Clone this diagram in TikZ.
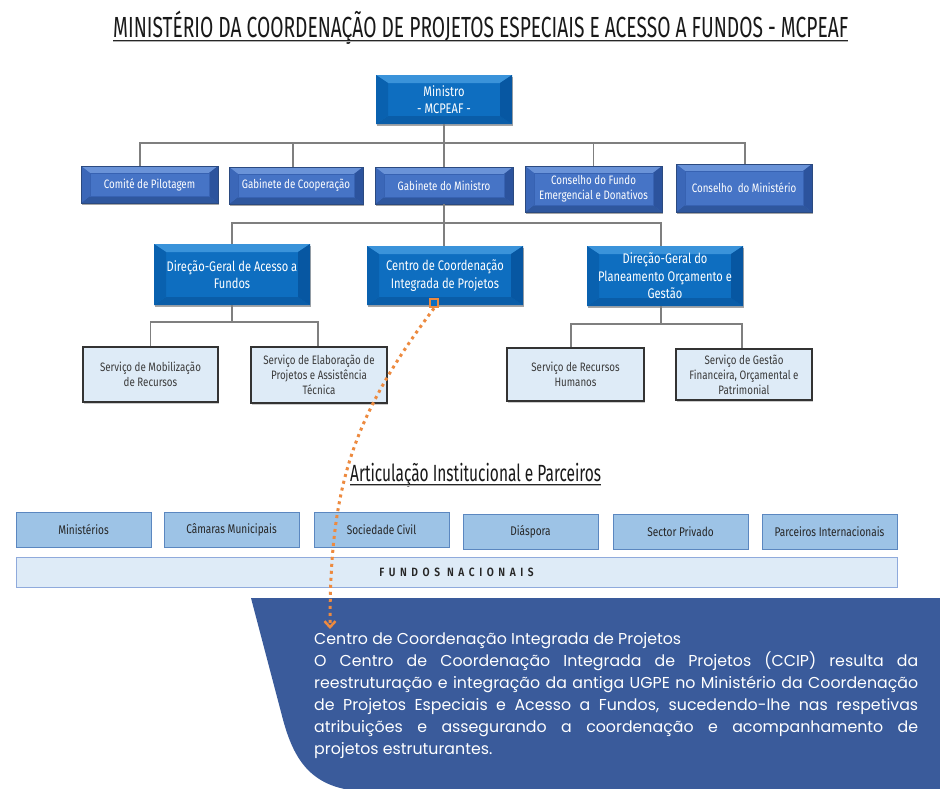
\documentclass[tikz,border=0pt]{standalone}
\usepackage{fontspec}
\usetikzlibrary{shadows,arrows.meta,calc}
\newfontfamily\condf[FakeStretch=0.8]{Fira Sans}
\newfontfamily\titlef[FakeStretch=0.66]{Fira Sans}
\newfontfamily\spacedf[FakeStretch=0.85,LetterSpace=38]{Fira Sans SemiBold}
\newfontfamily\popp{Poppins}
\definecolor{bface}{HTML}{0E6EC0}
\definecolor{btop}{HTML}{3A93DA}
\definecolor{bleft}{HTML}{0961AF}
\definecolor{bright}{HTML}{0757A2}
\definecolor{bbot}{HTML}{0A5DA8}
\definecolor{mface}{HTML}{4674C6}
\definecolor{mtop}{HTML}{6A93D8}
\definecolor{mleft}{HTML}{3B67B8}
\definecolor{mright}{HTML}{2C539D}
\definecolor{mbot}{HTML}{2F579E}
\definecolor{mborder}{HTML}{2B4A80}
\definecolor{mframe}{HTML}{3762B2}
\definecolor{lface}{HTML}{DEEBF7}
\definecolor{ltext}{HTML}{3A3A3A}
\definecolor{pface}{HTML}{9DC3E6}
\definecolor{pborder}{HTML}{5B87C0}
\definecolor{fborder}{HTML}{8FAADC}
\definecolor{conn}{HTML}{7F7F7F}
\definecolor{panel}{HTML}{3A5B9B}
\definecolor{orng}{HTML}{ED8A3F}
\tikzset{
  bevel/.style n args={7}{path picture={
    \fill[#3] (path picture bounding box.north west) -- (path picture bounding box.north east)
      -- ([shift={(-#1,-#2)}]path picture bounding box.north east) -- ([shift={(#1,-#2)}]path picture bounding box.north west) -- cycle;
    \fill[#6] (path picture bounding box.south west) -- (path picture bounding box.south east)
      -- ([shift={(-#1,#2)}]path picture bounding box.south east) -- ([shift={(#1,#2)}]path picture bounding box.south west) -- cycle;
    \fill[#4] (path picture bounding box.north west) -- (path picture bounding box.south west)
      -- ([shift={(#1,#2)}]path picture bounding box.south west) -- ([shift={(#1,-#2)}]path picture bounding box.north west) -- cycle;
    \fill[#5] (path picture bounding box.north east) -- (path picture bounding box.south east)
      -- ([shift={(-#1,#2)}]path picture bounding box.south east) -- ([shift={(-#1,-#2)}]path picture bounding box.north east) -- cycle;
    \draw[#7] ([shift={(#1,-#2)}]path picture bounding box.north west) rectangle ([shift={(-#1,#2)}]path picture bounding box.south east);
  }},
  softshadow/.style={drop shadow={shadow xshift=0.8pt,shadow yshift=-2.2pt,opacity=0.35,fill=black}},
  bluebox/.style={rectangle, fill=bface, text=white, align=center, inner sep=1pt,
    font=\condf\fontsize{13.9}{17.5}\selectfont, softshadow,
    bevel={12pt}{8pt}{btop}{bleft}{bright}{bbot}{draw=none}},
  midbox/.style={rectangle, fill=mface, draw=mborder, line width=0.8pt, text=white, align=center, inner sep=1pt,
    font=\condf\fontsize{12.2}{15}\selectfont, softshadow,
    bevel={9pt}{7pt}{mtop}{mleft}{mright}{mbot}{draw=mframe,line width=0.6pt}},
  lightbox/.style={rectangle, fill=lface, draw=black!80, line width=1.3pt, text=ltext, align=center, inner sep=1pt,
    font=\condf\fontsize{12.2}{15}\selectfont, drop shadow={shadow xshift=0.8pt,shadow yshift=-1.5pt,opacity=0.2,fill=black}},
  partbox/.style={rectangle, fill=pface, draw=pborder, line width=0.9pt, text=black!85, align=center, inner sep=1pt,
    font=\condf\fontsize{12.6}{14}\selectfont, minimum width=135pt, minimum height=35pt},
  connector/.style={draw=conn, line width=1.2pt},
  orangedots/.style={draw=orng, line width=3pt, dash pattern=on 3pt off 4pt,
    -{Straight Barb[length=6pt,width=11pt,line width=2.5pt]}},
}
\begin{document}
\begin{tikzpicture}[x=1pt,y=-1pt]
\useasboundingbox[fill=white] (0,0) rectangle (940,788);

% title
\node[inner sep=0, anchor=base west, text=black!90] (title) at (113,37)
  {\resizebox{735pt}{!}{\titlef\fontsize{27}{27}\selectfont MINISTÉRIO DA COORDENAÇÃO DE PROJETOS ESPECIAIS E ACESSO A FUNDOS - MCPEAF}};
\draw[gray!60, line width=1.3pt] ([yshift=-4.8pt]title.base west) -- ([yshift=-4.8pt]title.base east);
\draw[black!85, line width=1.1pt] ([yshift=-3.2pt]title.base west) -- ([yshift=-3.2pt]title.base east);

% level 1
\node[bluebox, minimum width=136pt, minimum height=49pt] (min) at (444,99.5) {Ministro\\- MCPEAF -};

% level 2
\node[midbox, minimum width=137pt, minimum height=37pt] (com) at (149.5,184.5) {Comité de Pilotagem};
\node[midbox, minimum width=134pt, minimum height=37pt] (gco) at (296,185.5) {Gabinete de Cooperação};
\node[midbox, minimum width=138pt, minimum height=37pt] (gmin) at (444,185.5) {Gabinete do Ministro};
\node[midbox, minimum width=137pt, minimum height=46pt] (cfe) at (593.5,189) {Conselho do Fundo\\Emergencial e Donativos};
\node[midbox, minimum width=136pt, minimum height=48pt] (cmin) at (744,188) {Conselho\ \ do Ministério};

\coordinate (bus1) at (444,143);
\draw[connector] (min.south) -- (bus1);
\draw[connector] (bus1) -| ([xshift=-9.5pt]com.north);
\draw[connector] (bus1) -| ([xshift=-3pt]gco.north);
\draw[connector] (bus1) -- (gmin.north);
\draw[connector] (bus1) -| (cfe.north);
\draw[connector] (bus1) -| ([xshift=1pt]cmin.north);

% level 3
\node[bluebox, minimum width=156pt, minimum height=61pt] (dga) at (232,274.5) {Direção-Geral de Acesso a\\Fundos};
\node[bluebox, minimum width=156pt, minimum height=59pt] (ccip) at (445,275.5) {Centro de Coordenação\\Integrada de Projetos};
\node[bluebox, minimum width=156pt, minimum height=60pt] (dgp) at (665,276) {Direção-Geral do\\Planeamento Orçamento e\\Gestão};

\coordinate (bus2) at (444,223);
\draw[connector] (gmin.south) -- (bus2);
\draw[connector] (bus2) -| (dga.north);
\draw[connector] (bus2) -- ([xshift=-1pt]ccip.north);
\draw[connector] (bus2) -| ([xshift=-4pt]dgp.north);

% level 4
\node[lightbox, minimum width=135pt, minimum height=55pt] (smr) at (150.5,374.5) {Serviço de Mobilização\\de Recursos};
\node[lightbox, minimum width=136pt, minimum height=56pt] (sep) at (319,375) {Serviço de Elaboração de\\Projetos e Assistência\\Técnica};
\node[lightbox, minimum width=137pt, minimum height=53pt] (srh) at (575.5,374.5) {Serviço de Recursos\\Humanos};
\node[lightbox, minimum width=136pt, minimum height=51pt] (sgf) at (744,374.5) {Serviço de Gestão\\Financeira, Orçamental e\\Patrimonial};

\coordinate (bus3) at (232,322);
\draw[connector] (dga.south) -- (bus3);
\draw[connector] (bus3) -| (smr.north);
\draw[connector] (bus3) -| ([xshift=-1pt]sep.north);
\coordinate (bus4) at (661,324);
\draw[connector] ([xshift=-4pt]dgp.south) -- (bus4);
\draw[connector] (bus4) -| ([xshift=-4.5pt]srh.north);
\draw[connector] (bus4) -| ([xshift=-2pt]sgf.north);

% articulation heading
\node[inner sep=0, anchor=base west, text=black!90] (art) at (350,481)
  {\resizebox{251pt}{!}{\titlef\fontsize{22}{22}\selectfont Articulação Institucional e Parceiros}};
\draw[gray!60, line width=1.2pt] ([yshift=-4.6pt]art.base west) -- ([yshift=-4.6pt]art.base east);
\draw[black!85, line width=1pt] ([yshift=-3.1pt]art.base west) -- ([yshift=-3.1pt]art.base east);

% partners
\node[partbox] (p1) at (83.5,529.5) {Ministérios};
\node[partbox] (p2) at (231.5,529.5) {Câmaras Municipais};
\node[partbox] (p3) at (381.5,529.5) {Sociedade Civil};
\node[partbox] (p4) at (530.5,532) {Diáspora};
\node[partbox] (p5) at (680.5,532) {Sector Privado};
\node[partbox] (p6) at (829.5,532) {Parceiros Internacionais};
\node[rectangle, fill=lface, draw=fborder, line width=1pt, minimum width=881pt, minimum height=30pt, inner sep=0,
  text=black!85, font=\spacedf\fontsize{12}{12}\selectfont] (fn) at (456.5,572) {FUNDOS NACIONAIS};

% bottom panel
\fill[panel] (251,598) -- (945,598) -- (945,795) -- (355,795) -- (350,790)
  .. controls (305,783) and (291,752) .. (281,712) -- cycle;
\node[anchor=north west, inner sep=0, text width=604pt, align=justify, text=white,
  font=\popp\fontsize{15.8}{22}\selectfont] (txt) at (314,632)
  {\hyphenpenalty=10000\relax Centro de Coordenação Integrada de Projetos\newline
  O Centro de Coordenação Integrada de Projetos (CCIP) resulta da\linebreak
  reestruturação e integração da antiga UGPE no Ministério da Coordenação\linebreak
  de Projetos Especiais e Acesso a Fundos, sucedendo-lhe nas respetivas\linebreak
  atribuições e assegurando a coordenação e acompanhamento de\linebreak
  projetos estruturantes.};

% orange dotted connector
\node[rectangle, draw=orng, fill=bface, line width=2.5pt, minimum size=8pt, inner sep=0] (sq) at (434,303) {};
\coordinate (arrend) at (330,629);
\draw[orangedots] (sq.south) .. controls (350,420) and (330,490) .. (arrend);
\end{tikzpicture}
\end{document}
